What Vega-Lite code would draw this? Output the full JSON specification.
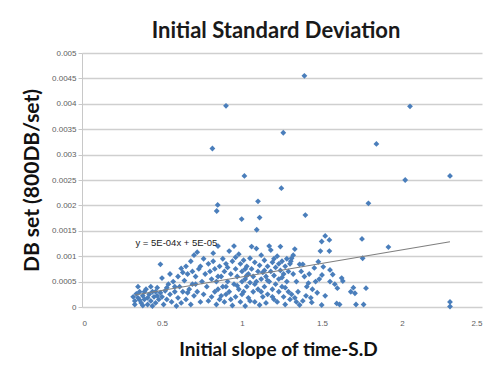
{
  "$schema": "https://vega.github.io/schema/vega-lite/v6.json",
  "width": 400,
  "height": 254,
  "autosize": {"type": "none"},
  "padding": {"left": 82, "top": 53, "right": 2, "bottom": 63},
  "background": "white",
  "title": {
    "text": "Initial Standard Deviation",
    "font": "Lato",
    "fontSize": 22,
    "fontWeight": "bold",
    "color": "#1a1a1a",
    "anchor": "middle",
    "dx": -6,
    "offset": 6
  },
  "config": {
    "view": {"stroke": null},
    "axis": {"labelFont": "Liberation Sans", "labelFontSize": 8, "labelColor": "#606060", "titleFont": "Lato", "titleColor": "#111111", "titleFontWeight": "bold", "labelOverlap": false}
  },
  "encoding": {
    "x": {"field": "x", "type": "quantitative", "scale": {"domain": [0, 2.5], "nice": false},
          "axis": {"values": [0, 0.5, 1, 1.5, 2, 2.5], "format": "~g", "grid": false, "domain": false, "ticks": false, "labelPadding": 12, "title": "Initial slope of time-S.D", "titleFontSize": 19, "titlePadding": 13, "titleX": 196}},
    "y": {"field": "y", "type": "quantitative", "scale": {"domain": [0, 0.005], "nice": false},
          "axis": {"values": [0, 0.0005, 0.001, 0.0015, 0.002, 0.0025, 0.003, 0.0035, 0.004, 0.0045, 0.005], "format": "~g", "labelOverlap": false, "labelBound": false, "grid": true, "gridColor": "#cfcfcf", "gridWidth": 1.4, "domain": true, "domainColor": "#c8c8c8", "ticks": true, "tickSize": 4, "tickColor": "#c8c8c8", "labelPadding": 2, "title": "DB set (800DB/set)", "titleFontSize": 21, "titlePadding": 9}}
  },
  "layer": [
    {
      "data": {"values": [
        {"x":0.32,"y":0.0002},{"x":0.33,"y":0.00012},{"x":0.34,"y":0.00026},{"x":0.33,"y":0.00005},{"x":0.35,"y":0.00018},{"x":0.36,"y":0.0003},{"x":0.37,"y":0.00008},{"x":0.38,"y":0.00022},{"x":0.39,"y":0.00015},{"x":0.40,"y":0.00035},{"x":0.41,"y":0.00005},{"x":0.42,"y":0.00025},{"x":0.43,"y":0.00012},{"x":0.44,"y":0.0003},{"x":0.45,"y":0.0002},{"x":0.46,"y":0.00008},{"x":0.47,"y":0.00038},{"x":0.48,"y":0.00015},{"x":0.49,"y":0.00028},{"x":0.36,"y":0.00014},{"x":0.41,"y":0.00018},{"x":0.44,"y":0.00002},{"x":0.39,"y":0.0003},{"x":0.47,"y":0.00022},{"x":0.35,"y":0.0004},{"x":0.43,"y":0.0004},{"x":0.38,"y":0.00003},{"x":0.46,"y":0.0003},
        {"x":0.49,"y":0.00084},{"x":0.5,"y":0.00057},{"x":0.5,"y":0.0002},{"x":0.51,"y":0.00005},{"x":0.52,"y":0.00032},{"x":0.53,"y":0.00015},{"x":0.54,"y":0.00045},{"x":0.55,"y":0.00025},{"x":0.56,"y":0.0001},{"x":0.57,"y":0.0005},{"x":0.58,"y":0.0003},{"x":0.59,"y":0.00002},{"x":0.6,"y":0.0006},{"x":0.6,"y":0.00018},{"x":0.61,"y":0.0004},{"x":0.62,"y":0.00076},{"x":0.62,"y":0.00008},{"x":0.63,"y":0.0003},{"x":0.64,"y":0.00052},{"x":0.65,"y":0.00015},{"x":0.66,"y":0.00065},{"x":0.67,"y":0.00035},{"x":0.68,"y":0.0009},{"x":0.68,"y":0.00005},{"x":0.69,"y":0.00045},{"x":0.7,"y":0.00102},{"x":0.7,"y":0.00022},{"x":0.71,"y":0.0006},{"x":0.72,"y":0.00108},{"x":0.72,"y":0.0003},{"x":0.73,"y":0.00075},{"x":0.74,"y":0.0001},{"x":0.75,"y":0.0005},{"x":0.76,"y":0.00095},{"x":0.76,"y":0.00025},{"x":0.77,"y":0.00065},{"x":0.78,"y":0.0004},{"x":0.79,"y":0.00085},{"x":0.79,"y":0.00012},{"x":0.8,"y":0.0007},{"x":0.55,"y":0.00065},{"x":0.65,"y":0.0008},{"x":0.58,"y":0.0004},{"x":0.53,"y":0.00038},{"x":0.74,"y":0.0008},{"x":0.71,"y":0.00045},{"x":0.66,"y":0.00028},{"x":0.63,"y":0.00068},{"x":0.69,"y":0.0007},
        {"x":0.81,"y":0.0002},{"x":0.81,"y":0.00055},{"x":0.82,"y":0.00106},{"x":0.82,"y":0.0009},{"x":0.83,"y":0.0003},{"x":0.83,"y":0.00075},{"x":0.84,"y":0.00005},{"x":0.84,"y":0.0005},{"x":0.85,"y":0.0012},{"x":0.85,"y":0.00035},{"x":0.86,"y":0.0008},{"x":0.86,"y":0.00015},{"x":0.87,"y":0.0006},{"x":0.88,"y":0.00095},{"x":0.88,"y":0.0004},{"x":0.89,"y":0.0007},{"x":0.89,"y":0.0001},{"x":0.9,"y":0.00025},{"x":0.9,"y":0.00085},{"x":0.91,"y":0.0005},{"x":0.92,"y":0.0011},{"x":0.92,"y":0.0003},{"x":0.93,"y":0.00065},{"x":0.94,"y":0.00003},{"x":0.94,"y":0.0009},{"x":0.95,"y":0.00045},{"x":0.95,"y":0.0012},{"x":0.96,"y":0.0002},{"x":0.96,"y":0.00075},{"x":0.97,"y":0.0006},{"x":0.98,"y":0.00104},{"x":0.98,"y":0.00035},{"x":0.99,"y":0.00085},{"x":0.99,"y":0.0001},{"x":1.0,"y":0.0005},{"x":1.0,"y":0.0007},{"x":1.01,"y":0.0003},{"x":1.01,"y":0.00092},{"x":1.02,"y":0.00055},{"x":1.02,"y":0.00002},{"x":1.03,"y":0.0008},{"x":1.03,"y":0.0004},{"x":1.04,"y":0.00065},{"x":1.04,"y":0.00018},{"x":1.05,"y":0.00096},{"x":1.05,"y":0.00048},{"x":1.06,"y":0.00119},{"x":1.06,"y":0.00075},{"x":1.07,"y":0.0003},{"x":1.07,"y":0.0006},{"x":1.08,"y":0.00088},{"x":1.08,"y":0.0001},{"x":1.09,"y":0.0005},{"x":1.09,"y":0.00115},{"x":1.1,"y":0.0007},{"x":1.1,"y":0.00035},{"x":1.11,"y":0.00082},{"x":1.11,"y":0.00004},{"x":1.12,"y":0.00102},{"x":1.12,"y":0.00055},{"x":1.13,"y":0.0002},{"x":1.13,"y":0.00068},{"x":1.14,"y":0.00092},{"x":1.14,"y":0.0004},{"x":1.15,"y":0.0006},{"x":1.15,"y":0.00008},{"x":1.16,"y":0.0008},{"x":1.16,"y":0.00025},{"x":1.17,"y":0.0012},{"x":1.17,"y":0.0005},{"x":1.18,"y":0.0007},{"x":1.18,"y":0.00112},{"x":1.19,"y":0.00035},{"x":1.19,"y":0.00088},{"x":1.2,"y":0.00015},{"x":1.2,"y":0.00062},{"x":1.21,"y":0.00078},{"x":1.21,"y":0.00045},{"x":1.22,"y":0.001},{"x":1.22,"y":0.0001},{"x":1.23,"y":0.00055},{"x":1.23,"y":0.0003},{"x":1.24,"y":0.00119},{"x":1.24,"y":0.00072},{"x":1.25,"y":0.0009},{"x":1.25,"y":0.0004},{"x":1.26,"y":0.0002},{"x":1.26,"y":0.00065},{"x":1.27,"y":0.0008},{"x":1.27,"y":0.00005},{"x":1.28,"y":0.0005},{"x":1.28,"y":0.00095},{"x":1.29,"y":0.0003},{"x":1.29,"y":0.0007},{"x":1.3,"y":0.00085},{"x":1.3,"y":0.00015},
        {"x":0.87,"y":0.00022},{"x":0.91,"y":0.00078},{"x":0.93,"y":0.00015},{"x":0.97,"y":0.00042},{"x":1.03,"y":0.00062},{"x":1.08,"y":0.00045},{"x":1.12,"y":0.0003},{"x":1.16,"y":0.00052},{"x":1.2,"y":0.00095},{"x":1.25,"y":0.00058},{"x":0.96,"y":0.00098},{"x":1.0,"y":0.00025},{"x":1.05,"y":0.00012},{"x":1.14,"y":0.00072},{"x":1.19,"y":0.0002},{"x":1.23,"y":0.00085},{"x":1.27,"y":0.00038},{"x":0.85,"y":0.0006},{"x":0.9,"y":0.0004},{"x":1.02,"y":0.00075},
        {"x":1.498,"y":0.00129},{"x":1.52,"y":0.0014},{"x":1.546,"y":0.00132},{"x":1.49,"y":0.0011},{"x":1.546,"y":0.0011},{"x":1.33,"y":0.00114},{"x":1.32,"y":0.00102},{"x":1.31,"y":0.00096},{"x":1.305,"y":0.0009},{"x":1.36,"y":0.00084},{"x":1.38,"y":0.00084},{"x":1.477,"y":0.00089},{"x":1.508,"y":0.00079},{"x":1.452,"y":0.00077},{"x":1.55,"y":0.00073},{"x":1.567,"y":0.00064},{"x":1.5,"y":0.00063},{"x":1.483,"y":0.00055},{"x":1.623,"y":0.00057},{"x":1.63,"y":0.00051},{"x":1.415,"y":0.00047},{"x":1.405,"y":0.0004},{"x":1.596,"y":0.00037},{"x":1.52,"y":0.00022},{"x":1.436,"y":0.00009},{"x":1.498,"y":0.00004},{"x":1.592,"y":0.00007},{"x":1.61,"y":0.00005},{"x":1.36,"y":0.00004},{"x":1.32,"y":0.00065},{"x":1.34,"y":0.0005},{"x":1.35,"y":0.0003},{"x":1.31,"y":0.00025},{"x":1.33,"y":0.00018},{"x":1.37,"y":0.0007},{"x":1.39,"y":0.0006},{"x":1.42,"y":0.00065},{"x":1.44,"y":0.00035},{"x":1.46,"y":0.0005},{"x":1.4,"y":0.00022},{"x":1.43,"y":0.00018},{"x":1.47,"y":0.00028},{"x":1.34,"y":0.0001},{"x":1.38,"y":0.00012},{"x":1.55,"y":0.0005},{"x":1.58,"y":0.00045},
        {"x":1.696,"y":0.00038},{"x":1.706,"y":0.00027},{"x":1.68,"y":0.0003},{"x":1.7125,"y":0.00005},{"x":1.76,"y":0.00005},{"x":1.775,"y":0.00037},{"x":1.75,"y":0.00134},{"x":1.754,"y":0.00096},{"x":1.915,"y":0.00118},{"x":2.3,"y":0.0001},{"x":2.3,"y":0.00001},
        {"x":1.39,"y":0.00455},{"x":0.9,"y":0.00396},{"x":2.05,"y":0.00395},{"x":1.258,"y":0.00343},{"x":0.815,"y":0.00312},{"x":1.84,"y":0.00321},{"x":1.015,"y":0.00258},{"x":2.02,"y":0.0025},{"x":2.3,"y":0.00258},{"x":1.246,"y":0.00234},{"x":0.848,"y":0.00201},{"x":0.842,"y":0.00189},{"x":1.1,"y":0.00208},{"x":1.79,"y":0.00204},{"x":1.396,"y":0.00181},{"x":1.11,"y":0.00176},{"x":0.998,"y":0.00173},{"x":1.092,"y":0.00152}
      ]},
      "mark": {"type": "point", "shape": "diamond", "filled": true, "size": 34, "color": "#4a7ebb", "opacity": 1}
    },
    {
      "data": {"values": [{"x": 0.33, "y": 0.000236}, {"x": 2.3, "y": 0.001285}]},
      "mark": {"type": "line", "color": "#7f7f7f", "strokeWidth": 1.2},
      "encoding": {}
    },
    {
      "data": {"values": [{"x": 0.59, "y": 0.00126, "label": "y = 5E-04x + 5E-05"}]},
      "mark": {"type": "text", "font": "Liberation Sans", "fontSize": 9.5, "color": "#222222", "align": "center", "baseline": "middle"},
      "encoding": {"text": {"field": "label"}}
    }
  ]
}
